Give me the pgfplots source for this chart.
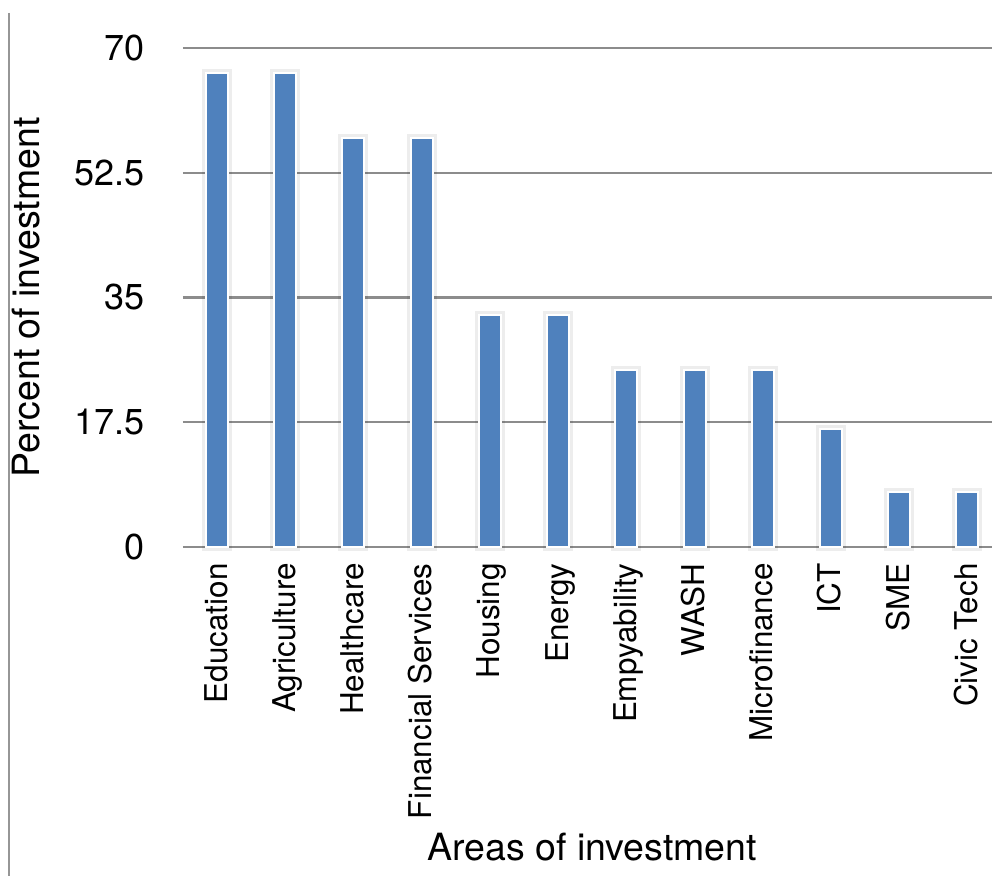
\documentclass[border=0pt]{standalone}
\usepackage{pgfplots}
\pgfplotsset{compat=1.18}
\usepackage{fontspec}
\setmainfont{TeX Gyre Heros}
\definecolor{barblue}{RGB}{79,129,189}
\definecolor{gridgray}{RGB}{140,140,140}
\definecolor{edgegray}{RGB}{150,150,150}
\begin{document}
\begin{tikzpicture}
\begin{axis}[
  x=34.1pt, y=3.5643pt,
  xmin=-0.5, xmax=11.5, ymin=0, ymax=70,
  clip=false,
  axis line style={draw=none},
  major tick length=0pt,
  tick style={draw=none},
  ymajorgrids,
  grid style={gridgray, line width=1.2pt},
  ytick={0,17.5,35,52.5,70},
  yticklabels={0,17.5,35,52.5,70},
  xtick={0,1,2,3,4,5,6,7,8,9,10,11},
  xticklabels={Education,Agriculture,Healthcare,Financial Services,Housing,Energy,Empyability,WASH,Microfinance,ICT,SME,Civic Tech},
  /pgf/number format/assume math mode=true,
  yticklabel style={font=\fontsize{18}{20}\selectfont, inner sep=0pt, anchor=east},
  yticklabel shift=19pt,
  xticklabel style={font=\fontsize{15.7}{18}\selectfont, inner sep=0pt, rotate=90, anchor=base east, yshift=-5pt},
  xticklabel shift=8pt,
  xlabel={Areas of investment},
  ylabel={Percent of investment},
  every axis x label/.style={at={(axis description cs:0.5,-0.629)}, anchor=base, font=\fontsize{18.75}{21}\selectfont},
  every axis y label/.style={at={(axis description cs:-0.1748,0.5)}, rotate=90, anchor=base, font=\fontsize{18.75}{21}\selectfont},
  ybar, bar width=11pt,
]
\addplot[fill=barblue, draw=white, line width=1pt,
  preaction={draw=black, draw opacity=0.07, line width=4pt}] coordinates {
  (0,66.5) (1,66.5) (2,57.4) (3,57.4) (4,32.6) (5,32.6)
  (6,24.8) (7,24.8) (8,24.8) (9,16.6) (10,7.7) (11,7.7)
};
\coordinate (bl) at (axis cs:-3.183,-46.15);
\coordinate (tr) at (axis cs:11.362,76.73);
\coordinate (vt) at (axis cs:-3.051,74.91);
\coordinate (vb) at (axis cs:-3.051,-46.15);
\end{axis}
\draw[edgegray, line width=1.3pt] (vt) -- (vb);
\pgfresetboundingbox
\useasboundingbox (bl) rectangle (tr);
\end{tikzpicture}
\end{document}
